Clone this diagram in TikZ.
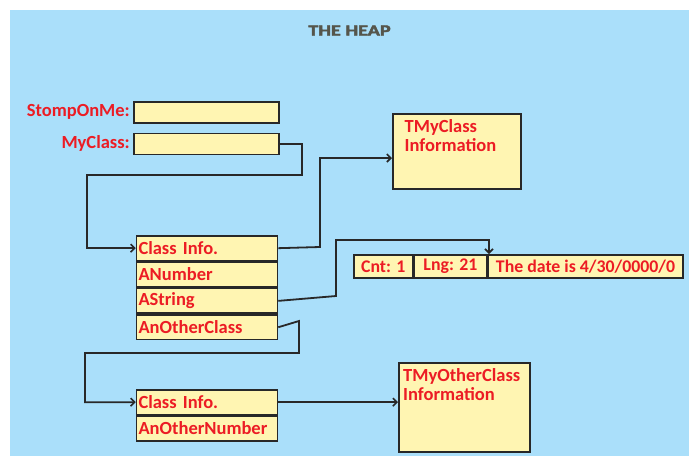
\documentclass[tikz,border=0pt]{standalone}
\usepackage{fontspec}
\setmainfont{Carlito}
\newfontfamily\titlefont{Carlito}[FakeBold=2.5]
\usetikzlibrary{arrows.meta,calc}
\definecolor{bgblue}{RGB}{170,223,250}
\definecolor{boxyel}{RGB}{255,245,178}
\definecolor{txtred}{RGB}{236,28,36}
\definecolor{edge}{RGB}{40,40,40}
\definecolor{titlegray}{RGB}{85,85,75}
\tikzset{
  lbl/.style={font=\fontsize{18.5}{21}\selectfont\bfseries, text=txtred, inner sep=0pt},
  slot/.style={draw=edge, line width=1.6pt, fill=boxyel, minimum width=145, minimum height=21, inner sep=0pt},
  rowbox/.style={draw=edge, line width=1.6pt, fill=boxyel, minimum height=24.75, text width=137, inner xsep=2, inner ysep=0, align=left,
    font=\fontsize{18.5}{21}\selectfont\bfseries, text=txtred, anchor=north},
  infobox/.style={draw=edge, line width=1.6pt, fill=boxyel, inner sep=0pt},
  cell/.style={draw=edge, line width=1.6pt, fill=boxyel, minimum height=23, inner xsep=3, inner ysep=0,
    font=\fontsize{17.8}{21}\selectfont\bfseries, text=txtred},
  conn/.style={draw=edge, line width=1.8pt},
  arr/.style={conn, -{Straight Barb[length=4pt,width=8pt,line width=1.6pt]}},
}
\begin{document}
\begin{tikzpicture}[x=1pt,y=-1pt]
\useasboundingbox (0,0) rectangle (691,456);
\fill[white] (0,0) rectangle (691,456);
\fill[bgblue] (10,10) rectangle (689,456);
\node[font=\fontsize{15.5}{18}\titlefont\bfseries, text=titlegray, inner sep=0pt] (title) at (349.5,30.5) {\scalebox{1.3}[1]{THE HEAP}};

% stack slots
\node[slot] (stomp) at (206.5,112.5) {};
\node[slot] (myc) at (206.5,144) {};
\node[lbl, anchor=east] (stompl) at (130,112) {StompOnMe:};
\node[lbl, anchor=east] (mycl) at (130,143.5) {MyClass:};

% first object
\node[rowbox] (ci) at (207,235) {Class Info.};
\node[rowbox] (anum) at (ci.south) {ANumber};
\node[rowbox] (astr) at (anum.south) {AString};
\node[rowbox] (aoc) at (astr.south) {AnOtherClass};

% second object
\node[rowbox] (ci2) at (207,389) {Class Info.};
\node[rowbox] (aon) at (ci2.south) {AnOtherNumber};

% class information boxes
\node[infobox, minimum width=128, minimum height=75, anchor=north west] (tmy) at (392,113) {};
\node[lbl, anchor=north west, align=left, font=\fontsize{18.5}{19.5}\selectfont\bfseries] (tmyt) at (404.5,119) {TMyClass\\Information};
\node[infobox, minimum width=131, minimum height=89, anchor=north west] (tmo) at (398,362) {};
\node[lbl, anchor=north west, align=left, font=\fontsize{18.5}{19.5}\selectfont\bfseries] (tmot) at (403,368) {TMyOtherClass\\Information};

% string
\node[cell, anchor=north west, minimum width=59] (cnt) at (353,254) {Cnt: 1};
\node[cell, anchor=west, minimum width=72] (lng) at (cnt.east) {Lng: 21};
\node[cell, anchor=west, minimum width=195] (str) at (lng.east) {The date is 4/30/0000/0};

% connectors
\draw[arr] (myc.east) -- (302,144) -- (302,175) -- (87,175) |- (ci.west);
\draw[arr] (ci.east) -- (320,247) |- (tmy.west |- 0,158);
\draw[arr] (astr.east) -- (336,296) -- (336,240) -| (str.north west -| 489,0);
\draw[arr] (aoc.east) -- (299,321) -- (299,353) -- (85,353) |- (ci2.west);
\draw[arr] (ci2.east) -- (tmo.west |- ci2.east);
\end{tikzpicture}
\end{document}
